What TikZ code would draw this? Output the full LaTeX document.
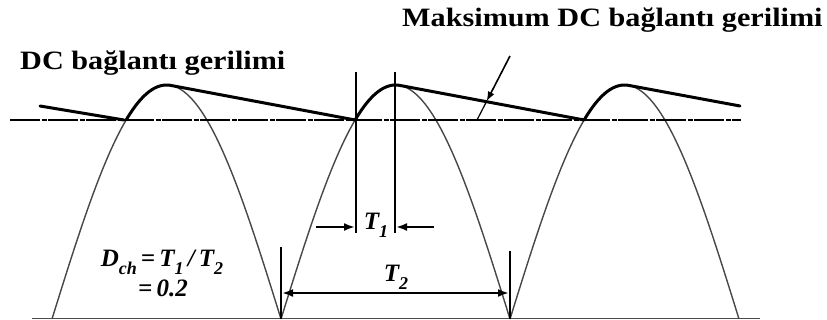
\documentclass[tikz,border=0pt]{standalone}
\usepackage{fontspec}
\setmainfont{Liberation Serif}
\usetikzlibrary{arrows.meta}
\begin{document}
\begin{tikzpicture}[x=1pt,y=-1pt,
  sine/.style={draw=black!72, line width=1.4pt},
  env/.style={line width=3pt, line join=round, line cap=round},
  vline/.style={line width=2.3pt},
  dimarrow/.style={line width=2.2pt, -{Latex[length=11pt,width=8pt]}},
  dimboth/.style={line width=2.2pt, {Latex[length=11pt,width=8pt]}-{Latex[length=11pt,width=8pt]}},
  lbl/.style={font=\fontsize{26.5}{28}\selectfont\bfseries, inner sep=0pt},
  math/.style={font=\fontsize{25}{26}\selectfont\itshape\bfseries, inner sep=0pt}]
\useasboundingbox (0,0) rectangle (827,320);
% baseline
\draw[line width=1.2pt, black!70] (32,318.5) -- (760,318.5);
% rectified sine humps
\foreach \s in {52,281,510}
  \draw[sine] plot[domain=0:229,samples=90,smooth] ({\s+\x},{319-234*sin(\x/229*180)});
% dash-dot reference line
\draw[line width=2.6pt, dash pattern=on 30pt off 1.5pt on 5pt off 1.5pt] (10,120) -- (741,120);
% DC link envelope
\draw[env] (40,106) -- (124,120);
\draw[env] plot[domain=74.1:118.8,samples=30,smooth] ({52+\x},{319-234*sin(\x/229*180)}) -- (355.1,120);
\draw[env] plot[domain=74.1:118.8,samples=30,smooth] ({281+\x},{319-234*sin(\x/229*180)}) -- (584.1,120);
\draw[env] plot[domain=74.1:118.8,samples=30,smooth] ({510+\x},{319-234*sin(\x/229*180)}) -- (740,106);
% T1 markers
\coordinate (v1t) at (356,72); \coordinate (v1b) at (356,233);
\coordinate (v2t) at (395,72); \coordinate (v2b) at (395,233);
\draw[vline] (v1t) -- (v1b);
\draw[vline] (v2t) -- (v2b);
\coordinate (a1s) at (316,227); \coordinate (a1e) at (355,227);
\coordinate (a2s) at (434,227); \coordinate (a2e) at (396,227);
\draw[dimarrow] (a1s) -- (a1e);
\draw[dimarrow] (a2s) -- (a2e);
\node[math, anchor=base] (t1) at (376,230) {T\raisebox{-0.3em}{\fontsize{18}{18}\selectfont 1}};
% T2 markers
\coordinate (w1t) at (281,247); \coordinate (w1b) at (281,319);
\coordinate (w2t) at (510,251); \coordinate (w2b) at (510,319);
\draw[vline] (w1t) -- (w1b);
\draw[vline] (w2t) -- (w2b);
\coordinate (b1) at (282,293); \coordinate (b2) at (509,293);
\draw[dimboth] (b1) -- (b2);
\node[math, anchor=base] (t2) at (396,282) {T\raisebox{-0.3em}{\fontsize{18}{18}\selectfont 2}};
% formula
\node[math, anchor=base] (f1) at (162,267) {D\raisebox{-0.3em}{\fontsize{18}{18}\selectfont ch}\,=\,T\raisebox{-0.3em}{\fontsize{18}{18}\selectfont 1}\,/\,T\raisebox{-0.3em}{\fontsize{18}{18}\selectfont 2}};
\node[math, anchor=base] (f2) at (163,297) {=\,0.2};
% labels
\node[lbl, anchor=base west] (l1) at (20,70) {\scalebox{1.14}[1]{DC bağlantı gerilimi}};
\node[lbl, anchor=base west] (l2) at (402,27) {\scalebox{1.14}[1]{Maksimum DC bağlantı gerilimi}};
% pointer to envelope
\coordinate (p0) at (510,56);
\coordinate (p1) at (486.5,101.6);
\coordinate (p2) at (477,120);
\draw[line width=1.6pt, -{Latex[length=10pt,width=7pt]}] (p0) -- (p1);
\draw[line width=1.2pt] (p1) -- (p2);
\end{tikzpicture}
\end{document}
